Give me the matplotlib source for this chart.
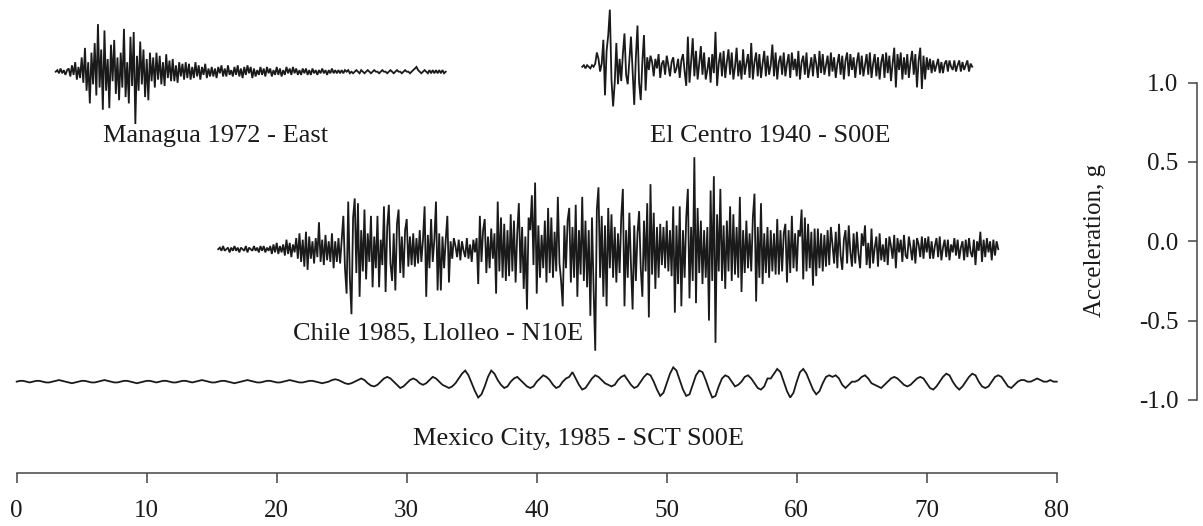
import numpy as np
import matplotlib
matplotlib.use("Agg")
import matplotlib.pyplot as plt

plt.rcParams.update({"font.family": "Liberation Serif", "font.size": 18})

# Accelerograms in units of 0.01 g, one row = 1 s (Mexico: 2 s).
# Each trace is drawn shifted to its own baseline (g).
managua_t0, managua_dt, managua_base = 3.0, 0.125, 1.069
managua = [
    0, 1, -1, 2, -1, 1, -2, 1,
    2, -3, 4, -2, 6, -5, 3, -4,
    9, -7, 15, -12, 6, -20, 12, -8,
    18, -15, 30, -10, 14, -24, 26, -12,
    8, -23, 17, -6, 20, -14, 9, -18,
    12, -10, 27, -16, 6, -20, 22, -9,
    25, -33, 10, -12, 19, -8, 14, -16,
    8, -18, 12, -6, 9, -10, 12, -5,
    10, -8, 6, -9, 11, -4, 7, -6,
    8, -6, 4, -7, 6, -3, 5, -5,
    6, -4, 5, -5, 3, -4, 6, -3,
    4, -5, 3, -2, 5, -4, 2, -3,
    3, -3, 2, -4, 3, -1, 4, -3,
    2, -3, 4, -2, 1, -3, 3, -2,
    4, -3, 2, -4, 3, -2, 4, -1,
    3, -4, 2, -3, 1, -2, 3, -2,
    2, -3, 3, -1, 2, -3, 1, -2,
    3, -2, 2, -3, 1, -2, 3, -1,
    2, -2, 3, -1, 2, -2, 1, -2,
    2, -1, 2, -2, 1, -2, 2, -1,
    1, -2, 1, -1, 2, -1, 1, -2,
    1, -1, 2, -1, 1, -1, 1, -1,
    1, -1, 1, 0, 1, -1, 0, -1,
    0, 1, 0, -1, 1, 0, -1, 0,
    1, 0, -1, 0, 1, 0, 0, -1,
    0, 1, 0, 0, -1, 0, 1, 0,
    -1, 0, 1, 0, 0, -1, 0, 1,
    0, 0, -1, 0, 1, 2, 3, 1,
    0, -1, 0, 1, 0, -1, 1, -1,
    1, -1, 1, -1, 1, -1, 1, -1,
    0,
]

elcentro_t0, elcentro_dt, elcentro_base = 43.5, 0.125, 1.10
elcentro = [
    0, 1, -1, 1, 0, -1, 1, 0,
    2, 9, 5, -3, 2, 17, -18, 10,
    20, 36, -8, -25, -10, 15, -11, 5,
    -9, 8, 21, -5, -11, 4, 19, -2,
    -24, 6, 26, -10, -21, 3, 20, -15,
    6, -2, 7, 3, -6, 5, -1, 8,
    -7, 2, 4, -5, 7, 1, -6, 3,
    6, -4, -1, 5, -7, 4, 8, -3,
    -12, 19, -10, 3, 18, -6, 10, -8,
    2, 13, -5, 9, -8, -2, 6, -10,
    8, -4, 22, -12, 2, 9, -6, 10,
    -7, 3, 11, -5, 9, -8, 0, 12,
    -6, 4, -8, 11, -5, 2, 8, -7,
    15, -8, 3, 9, -6, 8, -7, 2,
    10, -6, 7, -5, 1, 14, -6, 9,
    -8, 3, 7, -5, 9, -6, 2, 8,
    -7, 9, -2, 5, -6, 10, -8, 3,
    7, -5, 9, -7, -1, 6, -6, 8,
    2, -7, 10, -4, 8, -5, 1, 7,
    -6, 9, -3, 6, -7, 2, 8, -5,
    7, -8, 4, 9, -6, 8, -2, 6,
    -7, 3, 9, -5, 7, -6, 1, 8,
    -5, 9, -7, 2, 8, -6, 6, -8,
    3, 8, -7, 9, -4, 7, -9, 2,
    12, -13, 8, -2, 9, -8, 6, -5,
    8, -7, 3, 10, -5, 8, -13, 4,
    12, -14, 7, -8, 6, -2, 5, -4,
    4, -3, 1, 5, -4, 3, -4, 2,
    4, -3, 4, 0, -2, 4, -3, 1,
    4, -3, 3, -2, 1, 4, -3, 2,
    0,
]

chile_t0, chile_dt, chile_base = 15.5, 0.125, -0.05
chile = [
    0, 1, -1, 2, -1, 0, 1, -2,
    1, -1, 2, -1, 1, -2, 1, 0,
    -1, 2, -2, 1, 0, -1, 2, -1,
    1, -2, 2, -1, 2, -2, 1, -1,
    2, -3, 3, -2, 4, -3, 2, -2,
    3, -4, 6, -3, 4, -5, 3, -2,
    7, -6, 10, -8, 6, -11, 11, -13,
    8, -6, 5, -9, 7, -5, 17, -8,
    6, -10, 9, -7, 5, -8, 10, -12,
    5, -8, 7, -9, 6, 21, -12, -28,
    30, -18, -41, 20, 32, -15, 29, -30,
    12, -14, 25, -19, 10, -8, 21, -24,
    8, -12, 21, -24, 6, -10, 27, -27,
    14, 28, -9, -20, 10, -26, 16, 25,
    -15, 8, -18, 12, 19, -11, 8, -10,
    10, -11, 7, -9, 12, -8, 6, 27,
    -30, 9, -12, 19, -8, 6, 30, -26,
    10, -26, 8, -12, 6, 21, -21, 5,
    -6, 7, 2, -5, 6, -7, 5, -1,
    -5, 7, -6, 3, -8, 6, -2, 7,
    -22, 21, -8, 12, 19, -15, 8, -12,
    13, -6, 10, -28, 30, -14, 20, -18,
    16, -20, 12, -17, 22, -14, 18, -21,
    10, 29, -15, 14, -25, 8, -38, 20,
    12, 34, -10, 42, -28, 15, -18, 9,
    -12, 18, -21, 26, -15, 20, -18, 11,
    -14, 33, -9, -20, -36, 15, -12, 18,
    26, -21, 14, -18, 28, -30, 12, -16,
    33, -20, 18, -24, 12, -42, 20, -25,
    -64, 25, 39, -18, 21, -30, 15, -36,
    26, -12, 22, -18, 14, -21, 10, -15,
    20, 38, -36, 12, -18, 23, -10, -38,
    15, -20, 10, 24, -12, -30, 18, -14,
    29, -43, 41, -16, 23, -25, 14, -18,
    16, -10, 14, -12, 18, -14, 12, -17,
    27, -40, 15, -22, 27, -36, 12, -18,
    20, 38, -31, 14, -20, 58, -34, 26,
    -15, 18, -22, 12, -18, 14, -45, 37,
    -20, 46, -59, 22, -14, 38, -20, 15,
    -25, 18, -14, 27, -20, 22, -16, 14,
    -18, 33, -27, 12, -15, 18, -12, 10,
    -14, 20, 35, -33, 14, -18, 29, -22,
    10, -15, 14, -18, 12, -14, 10, -16,
    19, -16, 12, -14, 10, 16, -21, 12,
    -15, 21, -12, 10, -14, 12, 8, 25,
    -19, 20, -14, 16, -12, 11, -23, 13,
    -17, 13, -12, 10, -14, 9, -11, 12,
    -10, 14, 3, -9, 11, -12, 16, -4,
    -13, 6, 12, -9, 15, -2, -11, 10,
    -9, 11, -3, -12, 10, 2, 15, -10,
    4, -12, 13, -9, 1, 8, -11, 10,
    -7, 3, -8, 7, -10, 8, 2, -6,
    9, -12, 7, -2, 6, -8, 9, -4,
    -6, 8, 1, -7, 6, -9, 7, 3,
    -5, 8, -6, 7, -2, 8, -6, 5,
    -6, 2, 7, -5, 8, -7, 1, 6,
    -5, 6, -7, 3, -2, 7, -4, 6,
    -6, 1, 5, -7, 6, -5, 7, -2,
    -5, 6, -10, 5, -1, 11, -8, 6,
    -5, 7, -2, 5, -7, 6, -4, 5,
    0,
]

mexico_t0, mexico_dt, mexico_base = 0.0, 0.25, -0.885
mexico = [
    0, 0.5, 0.5, 0, -0.5, 0, 0.5, 0.5,
    0, -0.5, -0.5, 0, 0.5, 1, 0.5, 0,
    -0.5, -1, -0.5, 0, 0.5, 0.5, 0, -0.5,
    -0.5, 0, 0.5, 1, 0.5, 0, -0.5, -0.5,
    0, 0.5, 0.5, 0, -0.5, -1, -0.5, 0,
    0.5, 0.5, 0, -0.5, 0, 0.5, 0.5, 0,
    -0.5, -0.5, 0, 0.5, 0.5, 0, -0.5, 0,
    0.5, 1, 0.5, 0, -0.5, -0.5, 0, 0.5,
    0.5, 0, -0.5, -1, -0.5, 0, 0.5, 1,
    0.5, 0, -0.5, -0.5, 0, 0.5, 0.5, 0,
    -0.5, -0.5, 0, 0.5, 1, 0.5, 0, -0.5,
    -0.5, 0, 0.5, 0.5, 0, -0.5, -1, -0.5,
    0, 1, 1.5, 1, 0, -1, -1.5, -1,
    0, 1, 2, 1, -1, -2.5, -3, -2,
    0, 2, 3, 2, 0, -2, -4, -3,
    -1, 1, 2, 1, -1, -2, -1, 1,
    3, 2, 0, -2, -3, -4, -3, -1,
    2, 5, 7, 4, -1, -6, -10, -8,
    -3, 3, 7, 5, 1, -2, -4, -3,
    0, 2, 3, 1, -1, -3, -4, -3,
    0, 2, 4, 3, 1, -2, -4, -3,
    0, 2, 3, 6, 2, -2, -5, -4,
    -1, 2, 4, 3, 1, -1, -2, -3,
    -2, 1, 3, 4, 1, -2, -4, -3,
    0, 3, 5, 4, 0, -5, -9, -7,
    -1, 5, 9, 7, 1, -5, -9, -8,
    -2, 4, 7, 6, 1, -5, -10, -9,
    -3, 2, 4, 3, 0, -3, -2, 0,
    3, 4, 2, -1, -4, -5, -3, 2,
    2, 5, 8, 6, 0, -6, -10, -7,
    0, 6, 8, 5, 0, -5, -8, -6,
    -1, 3, 4, 3, 4, 2, -2, -4,
    -2, 0, 0, 1, 3, 4, 2, -1,
    -2, -3, -4, -2, 0, 2, 3, 2,
    0, -2, -3, -2, 0, 2, 3, 2,
    -1, -4, -5, -3, 0, 3, 5, 4,
    0, -3, -5, -3, 0, 3, 5, 4,
    0, -3, -4, -3, 0, 3, 4, 3,
    0, -3, -4, -2, 0, 1, 1, 0,
    0, 1, 2, 1, 0, 0, 1, 0,
    0,
]

traces = [
    (managua_t0, managua_dt, managua_base, managua),
    (elcentro_t0, elcentro_dt, elcentro_base, elcentro),
    (chile_t0, chile_dt, chile_base, chile),
    (mexico_t0, mexico_dt, mexico_base, mexico),
]

labels = [
    ("Managua 1972 - East", 6.64, 0.623),
    ("El Centro 1940 - S00E", 48.7, 0.623),
    ("Chile 1985, Llolleo - N10E", 21.25, -0.622),
    ("Mexico City, 1985 - SCT S00E", 30.5, -1.284),
]

x_ticks = [0, 10, 20, 30, 40, 50, 60, 70, 80]
y_ticks = [1.0, 0.5, 0.0, -0.5, -1.0]

INK = "#1a1a1a"
AXC = "#444444"

fig = plt.figure(figsize=(12.03, 5.26), dpi=100)
ax = fig.add_axes([0, 0, 1, 1])
ax.set_xlim(-1.285, 91.25)
ax.set_ylim(-1.795, 1.521)

for t0, dt, base, vals in traces:
    v = np.asarray(vals, dtype=float) / 100.0
    t = t0 + dt * np.arange(len(v))
    ax.plot(t, base + v, color=INK, lw=1.3, solid_joinstyle="miter")

for txt, x, y in labels:
    ax.text(x, y, txt, ha="left", va="baseline", color=INK, fontsize=19)

for s in ("top", "right"):
    ax.spines[s].set_visible(False)
ax.spines["bottom"].set_position(("data", -1.462))
ax.spines["bottom"].set_bounds(0, 80)
ax.spines["left"].set_position(("data", 90.79))
ax.spines["left"].set_bounds(-1, 1)
for s in ("bottom", "left"):
    ax.spines[s].set_color(AXC)
    ax.spines[s].set_linewidth(1.1)

ax.set_xticks(x_ticks)
ax.set_xticklabels([str(v) for v in x_ticks])
ax.set_yticks(y_ticks)
ax.set_yticklabels([f"{v:.1f}" for v in y_ticks])
ax.tick_params(axis="x", direction="out", length=7, width=1.1, color=AXC,
               pad=12, labelcolor=INK, labelsize=18)
ax.tick_params(axis="y", direction="out", length=6.5, width=1.1, color=AXC,
               pad=7, labelcolor=INK, labelsize=18)

fig.text(1095 / 1203, (526 - 240) / 526, "Acceleration, g", rotation=90,
         ha="center", va="center", color=INK, fontsize=18)

fig.savefig("out.png", dpi=100)
